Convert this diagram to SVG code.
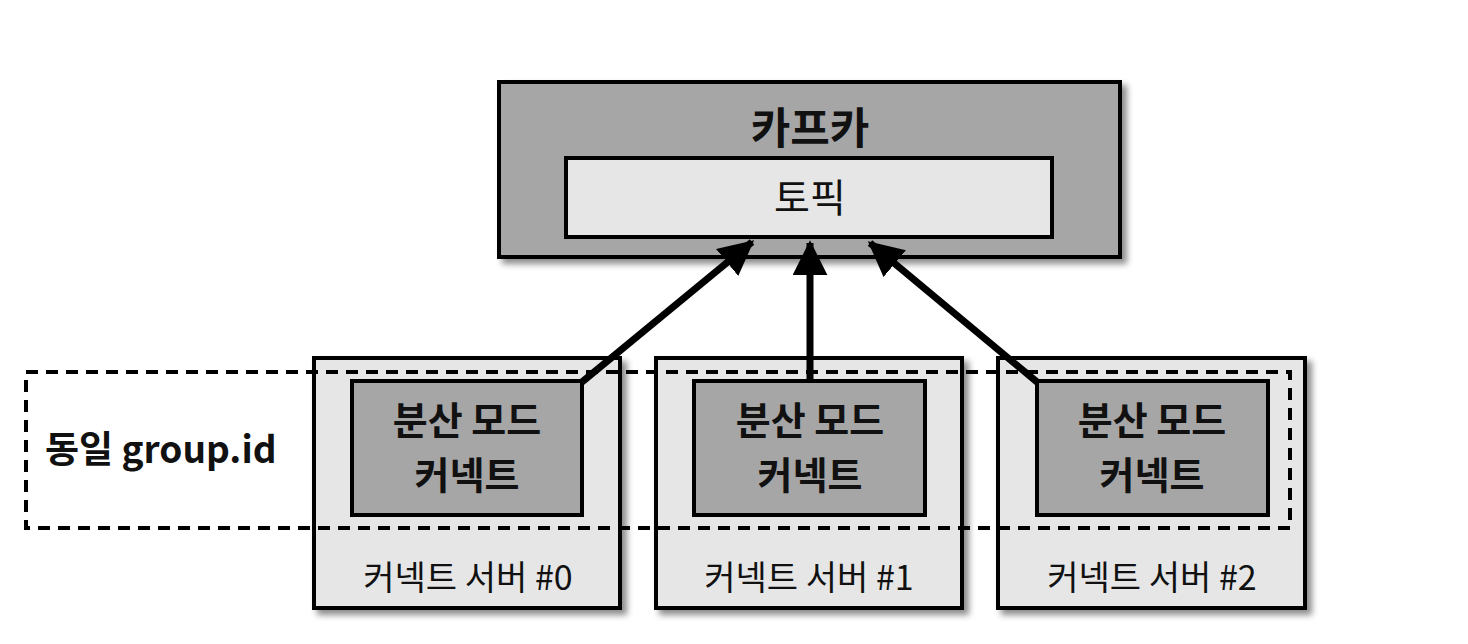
<svg xmlns="http://www.w3.org/2000/svg" width="1468" height="644" viewBox="0 0 1468 644">
<defs>
<filter id="sh" x="-10%" y="-10%" width="130%" height="130%">
<feDropShadow dx="5" dy="5" stdDeviation="3" flood-color="#000" flood-opacity="0.45"/>
</filter>
<marker id="ah" markerWidth="5" markerHeight="5" refX="4.6" refY="2.5" orient="auto" markerUnits="strokeWidth" viewBox="0 0 5 5">
<path d="M0,0 L5,2.5 L0,5 Z" fill="#000"/>
</marker>
<style>
.dark{fill:#a6a6a6;stroke:#000;stroke-width:4}
.light{fill:#e6e6e6;stroke:#000;stroke-width:4}
.t{font-family:"Noto Sans CJK KR","Noto Sans",sans-serif;fill:#111;text-anchor:middle}
.b{font-weight:bold}
.conn{stroke:#000;stroke-width:7;fill:none;marker-end:url(#ah)}
</style>
</defs>
<rect width="1468" height="644" fill="#fff"/>
<g id="kafka">
<rect class="dark" x="499" y="82" width="621" height="175" filter="url(#sh)"/>
<text class="t b" x="810" y="144" font-size="43">카프카</text>
</g>
<g id="topic">
<rect class="light" x="566" y="158" width="486" height="79"/>
<text class="t" x="810" y="212" font-size="39">토픽</text>
</g>
<g id="server0">
<rect class="light" x="314" y="358" width="306" height="250" filter="url(#sh)"/>
<text class="t" x="468" y="590" font-size="34">커넥트 서버 #0</text>
</g>
<g id="server1">
<rect class="light" x="656" y="358" width="306" height="250" filter="url(#sh)"/>
<text class="t" x="809" y="590" font-size="34">커넥트 서버 #1</text>
</g>
<g id="server2">
<rect class="light" x="998" y="358" width="307" height="250" filter="url(#sh)"/>
<text class="t" x="1152" y="590" font-size="34">커넥트 서버 #2</text>
</g>
<g id="group">
<rect x="26" y="372" width="1264" height="156" fill="none" stroke="#000" stroke-width="4" stroke-dasharray="12,8"/>
<text class="t b" x="45" y="463" font-size="37" style="text-anchor:start">동일 group.id</text>
</g>
<g id="connector0">
<rect class="dark" x="352" y="381" width="230" height="134"/>
<text class="t b" font-size="38"><tspan x="467" y="434">분산 모드</tspan><tspan x="467" y="489">커넥트</tspan></text>
</g>
<g id="connector1">
<rect class="dark" x="694" y="381" width="231" height="134"/>
<text class="t b" font-size="38"><tspan x="810" y="434">분산 모드</tspan><tspan x="810" y="489">커넥트</tspan></text>
</g>
<g id="connector2">
<rect class="dark" x="1037" y="381" width="231" height="134"/>
<text class="t b" font-size="38"><tspan x="1152" y="434">분산 모드</tspan><tspan x="1152" y="489">커넥트</tspan></text>
</g>
<g id="connectors">
<line class="conn" x1="582" y1="382" x2="752" y2="242"/>
<line class="conn" x1="810" y1="381" x2="810" y2="243"/>
<line class="conn" x1="1037" y1="382" x2="870" y2="243"/>
</g>
</svg>
